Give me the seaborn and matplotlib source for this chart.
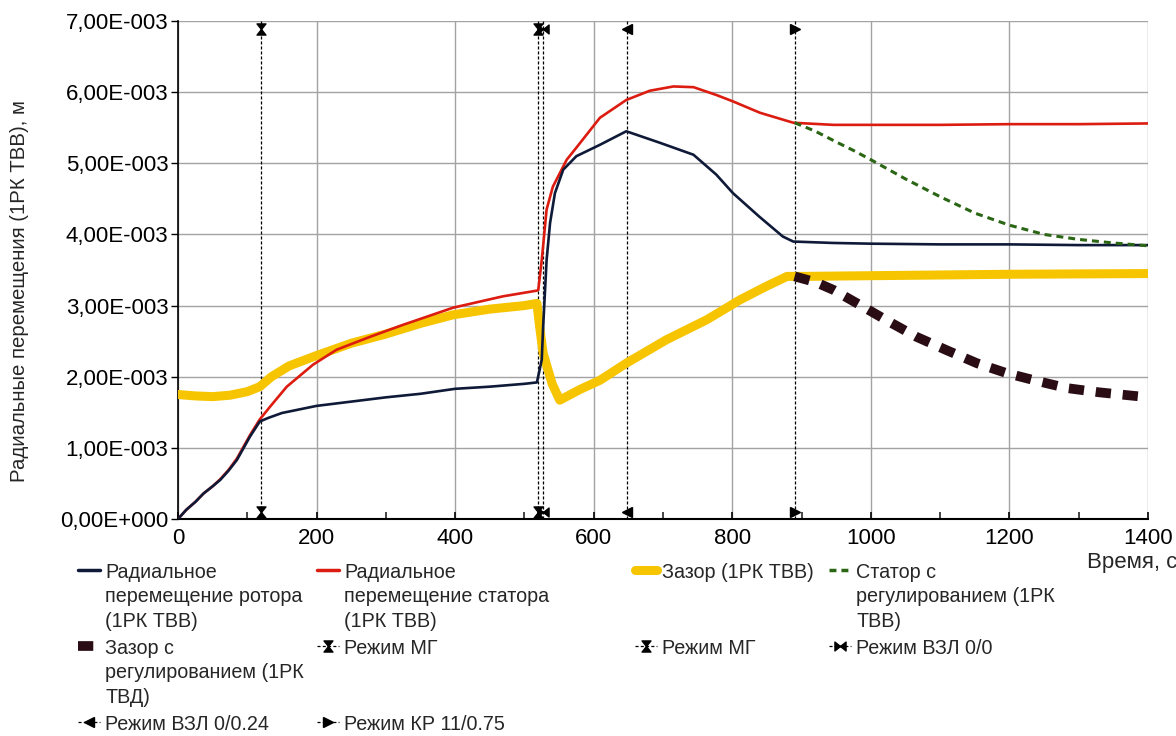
import numpy as np
import pandas as pd
import matplotlib
matplotlib.use("Agg")
import matplotlib.pyplot as plt
import matplotlib.transforms as mtransforms
from matplotlib.lines import Line2D
from matplotlib.path import Path
from matplotlib.ticker import FuncFormatter, MultipleLocator
import seaborn as sns

# ---------------- data (values in mm, plotted in m) ----------------
rotor_t = [0, 12, 25, 37, 50, 61, 73, 85, 104, 118, 130, 150, 200, 250, 300, 350, 400,
           450, 500, 518, 522, 525, 527, 532, 537, 544, 556, 575, 609, 647, 695, 744,
           777, 801, 839, 873, 888, 946, 1000, 1100, 1200, 1300, 1400]
rotor_mm = [0.0, 0.13, 0.24, 0.36, 0.46, 0.55, 0.68, 0.83, 1.16, 1.37, 1.42, 1.49, 1.59,
            1.65, 1.71, 1.76, 1.83, 1.86, 1.90, 1.92, 2.10, 2.24, 2.70, 3.64, 4.16, 4.58,
            4.91, 5.10, 5.26, 5.45, 5.29, 5.12, 4.84, 4.58, 4.25, 3.97, 3.90, 3.88, 3.87,
            3.86, 3.86, 3.85, 3.85]

stator_t = [0, 12, 25, 37, 50, 61, 73, 85, 104, 118, 133, 157, 195, 229, 277, 325, 397,
            469, 518, 520, 525, 532, 541, 561, 575, 609, 647, 681, 715, 744, 777, 801,
            840, 888, 946, 1000, 1100, 1200, 1300, 1400]
stator_mm = [0.0, 0.13, 0.24, 0.36, 0.46, 0.56, 0.69, 0.85, 1.18, 1.40, 1.58, 1.86, 2.17,
             2.38, 2.56, 2.73, 2.97, 3.13, 3.21, 3.22, 3.64, 4.35, 4.67, 5.05, 5.22, 5.64,
             5.89, 6.02, 6.08, 6.07, 5.96, 5.87, 5.71, 5.57, 5.54, 5.54, 5.54, 5.55, 5.55,
             5.56]

gap_t = [0, 25, 50, 75, 100, 118, 135, 160, 195, 250, 300, 350, 397, 450, 500, 518, 522,
         527, 540, 551, 580, 609, 647, 705, 763, 811, 849, 879, 900, 1000, 1200, 1400]
gap_mm = [1.75, 1.73, 1.72, 1.74, 1.79, 1.86, 2.00, 2.15, 2.28, 2.47, 2.60, 2.75, 2.87,
          2.95, 3.00, 3.03, 2.70, 2.33, 1.90, 1.67, 1.82, 1.95, 2.19, 2.52, 2.80, 3.08,
          3.27, 3.41, 3.41, 3.42, 3.44, 3.45]

stator_reg_t = [890, 920, 950, 975, 1000, 1050, 1100, 1150, 1200, 1250, 1300, 1350, 1400]
stator_reg_mm = [5.57, 5.45, 5.30, 5.18, 5.05, 4.78, 4.53, 4.30, 4.13, 4.00, 3.93, 3.88, 3.84]

gap_reg_t = [890, 920, 946, 984, 1025, 1066, 1110, 1153, 1196, 1240, 1283, 1330, 1391]
gap_reg_mm = [3.41, 3.33, 3.22, 3.01, 2.78, 2.56, 2.37, 2.19, 2.05, 1.94, 1.84, 1.78, 1.72]

mode_times = [120, 520, 527, 648, 890]
mode_labels = ["Режим МГ", "Режим МГ", "Режим ВЗЛ 0/0", "Режим ВЗЛ 0/0.24", "Режим КР 11/0.75"]

series_labels = [
    "Радиальное\nперемещение ротора\n(1РК ТВВ)",
    "Радиальное\nперемещение статора\n(1РК ТВВ)",
    "Зазор (1РК ТВВ)",
    "Статор с\nрегулированием (1РК\nТВВ)",
    "Зазор с\nрегулированием (1РК\nТВД)",
]

x_ticks = [0, 200, 400, 600, 800, 1000, 1200, 1400]
y_ticks_mm = [0, 1, 2, 3, 4, 5, 6, 7]
ylabel = "Радиальные перемещения (1РК ТВВ), м"
xlabel = "Время, с"

# ---------------- style ----------------
sns.set_theme(style="white")
plt.rcParams["font.family"] = ["Liberation Sans", "DejaVu Sans"]
plt.rcParams["lines.scale_dashes"] = False

c_rotor = "#0f1a38"
c_stator = "#dc1c10"
c_gap = "#f6c500"
c_sreg = "#2a6614"
c_greg = "#2a0c14"
FS_TICK = 16
FS_YLAB = 14.7
FS_LEG = 14.2

fig = plt.figure(figsize=(11.76, 7.36), dpi=100)
ax = fig.add_axes([178 / 1176, 1 - 519 / 736, (1148 - 178) / 1176, (519 - 21) / 736])

def mm(v):
    return np.asarray(v) * 1e-3

# curves
sns.lineplot(x=gap_t, y=mm(gap_mm), ax=ax, color=c_gap, linewidth=6.5,
             estimator=None, sort=False, zorder=3)
sns.lineplot(x=stator_t, y=mm(stator_mm), ax=ax, color=c_stator, linewidth=1.9,
             estimator=None, sort=False, zorder=4)
sns.lineplot(x=rotor_t, y=mm(rotor_mm), ax=ax, color=c_rotor, linewidth=1.9,
             estimator=None, sort=False, zorder=5)
sns.lineplot(x=stator_reg_t, y=mm(stator_reg_mm), ax=ax, color=c_sreg, linewidth=2.2,
             estimator=None, sort=False, zorder=6)
ax.lines[-1].set_dashes((5, 3.6))
sns.lineplot(x=gap_reg_t, y=mm(gap_reg_mm), ax=ax, color=c_greg, linewidth=7,
             estimator=None, sort=False, zorder=6)
ax.lines[-1].set_dashes((11, 8.5))
ax.lines[-1].set_solid_capstyle("butt")
ax.lines[-1].set_dash_capstyle("butt")

# markers
hourglass = Path([(-0.8, 1), (0.8, 1), (-0.8, -1), (0.8, -1), (-0.8, 1)],
                 [Path.MOVETO, Path.LINETO, Path.LINETO, Path.LINETO, Path.CLOSEPOLY])
bowtie = Path([(-1, 0.8), (-1, -0.8), (1, 0.8), (1, -0.8), (-1, 0.8)],
              [Path.MOVETO, Path.LINETO, Path.LINETO, Path.LINETO, Path.CLOSEPOLY])
mode_markers = [hourglass, hourglass, bowtie, "<", ">"]
mode_ms = [8, 8, 8, 7, 7]

ymax = mm(y_ticks_mm[-1])
up = ax.transData + mtransforms.ScaledTranslation(0, 0.07, fig.dpi_scale_trans)
down = ax.transData + mtransforms.ScaledTranslation(0, -0.08, fig.dpi_scale_trans)
for t, m, ms in zip(mode_times, mode_markers, mode_ms):
    ax.plot([t, t], [0, ymax], color="black", lw=0.9, dashes=(2.2, 1.4), zorder=2)
    ax.plot([t], [0], marker=m, ms=ms, color="black", ls="none", transform=up,
            zorder=7, clip_on=False)
    ax.plot([t], [ymax], marker=m, ms=ms, color="black", ls="none", transform=down,
            zorder=7, clip_on=False)

# axes
ax.set_xlim(x_ticks[0], x_ticks[-1])
ax.set_ylim(0, ymax)
ax.set_xticks(x_ticks)
ax.set_yticks(mm(y_ticks_mm))
ax.xaxis.set_minor_locator(MultipleLocator(100))

def sci_fmt(v, pos):
    if abs(v) < 1e-12:
        return "0,00E+000"
    mant, ex = f"{v:.2E}".split("E")
    ex = int(ex)
    return f"{mant.replace('.', ',')}E{'+' if ex >= 0 else '-'}{abs(ex):03d}"

ax.yaxis.set_major_formatter(FuncFormatter(sci_fmt))
ax.grid(True, which="major", color="#a3a3a3", lw=1.0)
ax.set_axisbelow(True)
for s in ["top", "right"]:
    ax.spines[s].set_visible(False)
ax.spines["left"].set_color("black")
ax.spines["left"].set_linewidth(1.2)
ax.spines["bottom"].set_color("black")
ax.spines["bottom"].set_linewidth(1.5)
ax.tick_params(axis="x", which="major", direction="in", length=5, width=1.2,
               labelsize=FS_TICK, pad=6.5, colors="black", bottom=True)
ax.tick_params(axis="x", which="minor", direction="in", length=5, width=1.2,
               bottom=True)
ax.tick_params(axis="y", which="major", direction="out", length=5, width=1.0,
               labelsize=FS_TICK, pad=2, colors="black", left=True)
ax.set_xlabel("")
ax.set_ylabel("")

fig.text(20 / 1176, 0.605, ylabel, rotation=90, ha="center", va="center", fontsize=FS_YLAB)
fig.text(1087 / 1176, 1 - 568 / 736, xlabel, ha="left", va="baseline", fontsize=FS_TICK)

# legend handles
h_rotor = Line2D([], [], color=c_rotor, lw=2.5)
h_stator = Line2D([], [], color=c_stator, lw=2.5)
h_gap = Line2D([], [], color=c_gap, lw=6.5)
h_sreg = Line2D([], [], color=c_sreg, lw=2.5, dashes=(5, 3.6))
h_greg = Line2D([], [], color=c_greg, lw=7, dashes=(11, 8.5), dash_capstyle="butt")
h_modes = [Line2D([], [], color="black", lw=0.9, dashes=(2.2, 1.6), marker=m, ms=ms)
           for m, ms in zip(mode_markers, mode_ms)]

columns = [
    ([h_rotor, h_greg, h_modes[3]],
     [series_labels[0], series_labels[4], mode_labels[3]], 78),
    ([h_stator, h_modes[0], h_modes[4]],
     [series_labels[1], mode_labels[0] + "\n\n", mode_labels[4]], 317),
    ([h_gap, h_modes[1]],
     [series_labels[2] + "\n\n", mode_labels[1]], 635),
    ([h_sreg, h_modes[2]],
     [series_labels[3], mode_labels[2]], 829),
]
for handles, labels, xpx in columns:
    leg = fig.legend(handles, labels, loc="upper left",
                     bbox_to_anchor=(xpx / 1176, 1 - 563 / 736),
                     bbox_transform=fig.transFigure, frameon=False, borderpad=0,
                     borderaxespad=0, handlelength=1.13, handletextpad=0.26,
                     labelspacing=0.42, fontsize=FS_LEG, numpoints=1)
    for txt in leg.get_texts():
        txt.set_linespacing(1.36)
    try:
        box = leg._legend_handle_box
        box.align = "top"
        for col in box.get_children():
            col.align = "left"
            for item in col.get_children():
                item.align = "top"
    except Exception:
        pass

fig.savefig("out.png", dpi=100)
